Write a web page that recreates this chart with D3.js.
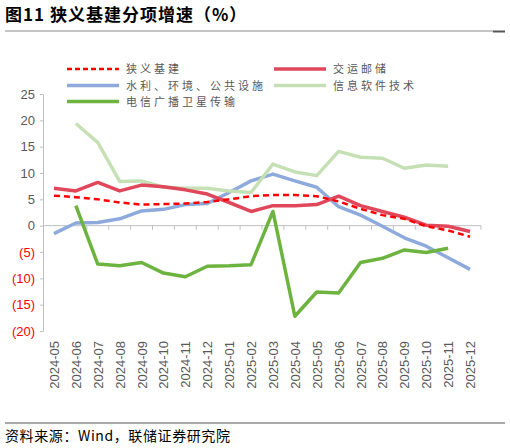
<!DOCTYPE html>
<html>
<head>
<meta charset="utf-8">
<title>狭义基建分项增速</title>
<style>
  body { margin: 0; background: #fff; }
  svg { display: block; font-family: "Noto Sans CJK SC", "Liberation Sans", sans-serif; }
  .line { fill: none; stroke-linejoin: round; }
  .axis text { font-family: "Liberation Sans", Arial, sans-serif; font-size: 13px; fill: #595959; }
  .axis path, .axis line { stroke: #bfbfbf; }
  .legend text { font-size: 11px; fill: #595959; letter-spacing: 3px; }
</style>
</head>
<body>
<script src="https://cdn.jsdelivr.net/npm/d3@7"></script>
<script>
var months = ["2024-05","2024-06","2024-07","2024-08","2024-09","2024-10","2024-11","2024-12",
  "2025-01","2025-02","2025-03","2025-04","2025-05","2025-06","2025-07","2025-08","2025-09",
  "2025-10","2025-11","2025-12"];

var narrowInfra = [5.7, 5.4, 5.0, 4.4, 4.0, 4.1, 4.2, 4.5, 5.0, 5.6, 5.8, 5.8, 5.6, 4.6, 3.2, 2.0, 1.3, -0.1, -0.9, -2.1];
var transport   = [7.1, 6.6, 8.2, 6.6, 7.7, 7.4, 6.8, 6.0, 4.4, 2.7, 3.8, 3.8, 4.0, 5.6, 3.8, 2.7, 1.6, 0.1, -0.1, -1.1];
var waterEnv    = [-1.5, 0.5, 0.6, 1.3, 2.8, 3.1, 4.0, 4.2, 6.3, 8.5, 9.8, 8.5, 7.3, 3.6, 2.0, -0.1, -2.3, -3.9, -6.1, -8.3];
var infoSoft    = [null, 19.4, 15.8, 8.4, 8.5, 7.3, 7.1, 7.1, 6.6, 6.3, 11.7, 10.2, 9.5, 14.1, 13.0, 12.8, 10.9, 11.5, 11.3, null];
var telecom     = [null, 3.8, -7.3, -7.6, -7.0, -9.0, -9.7, -7.7, -7.6, -7.4, 2.7, -17.2, -12.6, -12.8, -7.0, -6.2, -4.6, -5.1, -4.3, null];

var yTicks = [25, 20, 15, 10, 5, 0, -5, -10, -15, -20];

var series = [
  {name: "水利、环境、公共设施", values: waterEnv, color: "#8eaadc", width: 3.5},
  {name: "信息软件技术", values: infoSoft, color: "#c5e0b4", width: 3.5},
  {name: "电信广播卫星传输", values: telecom, color: "#6db33f", width: 3.5},
  {name: "交运邮储", values: transport, color: "#e0475b", width: 3.5},
  {name: "狭义基建", values: narrowInfra, color: "#ff0000", width: 2.5, dash: "6,4"}
];

var W = 510, H = 448;
var margin = {top: 94, left: 43, right: 29, bottom: 117};
var width = W - margin.left - margin.right,
    height = H - margin.top - margin.bottom;

var svg = d3.select("body").append("svg").attr("width", W).attr("height", H);

// title + rules
svg.append("text").attr("x", 5).attr("y", 21)
  .style("font-size", "17px").style("font-weight", "bold").style("fill", "#000")
  .style("letter-spacing", "1px")
  .text("图11 狭义基建分项增速（%）");
svg.append("line").attr("x1", 5).attr("x2", 493).attr("y1", 31).attr("y2", 31)
  .attr("stroke", "#8c8c8c").attr("stroke-width", 1);
svg.append("line").attr("x1", 493).attr("x2", 505).attr("y1", 31.5).attr("y2", 31.5)
  .attr("stroke", "#555").attr("stroke-width", 2);
svg.append("line").attr("x1", 5).attr("x2", 505).attr("y1", 423).attr("y2", 423)
  .attr("stroke", "#555").attr("stroke-width", 1);
svg.append("text").attr("x", 5).attr("y", 441)
  .style("font-size", "14px").style("fill", "#000").style("letter-spacing", "0.6px")
  .text("资料来源：Wind，联储证券研究院");

var g = svg.append("g").attr("transform", "translate(" + margin.left + "," + margin.top + ")");

var x = d3.scaleBand().domain(months).range([0, width]);
var y = d3.scaleLinear().domain([-20, 25]).range([height, 0]);

// y axis
var yAxis = g.append("g").attr("class", "axis")
  .call(d3.axisLeft(y).tickValues(yTicks).tickSize(3).tickSizeOuter(0)
    .tickFormat(function(d) { return d < 0 ? "(" + (-d) + ")" : d; }));
yAxis.selectAll("text").attr("x", -8)
  .style("fill", function(d) { return d < 0 ? "#ff0000" : "#595959"; });

// zero line with ticks between categories
var xAxis = g.append("g").attr("class", "axis")
  .attr("transform", "translate(0," + y(0) + ")");
xAxis.append("line").attr("x1", 0).attr("x2", width).attr("stroke", "#bfbfbf");
xAxis.selectAll(".tk").data(months).enter().append("line")
  .attr("x1", function(d) { return x(d) + x.bandwidth(); })
  .attr("x2", function(d) { return x(d) + x.bandwidth(); })
  .attr("y1", 0).attr("y2", 4).attr("stroke", "#bfbfbf");

// x labels at the bottom, rotated
g.append("g").selectAll("text").data(months).enter().append("text")
  .attr("transform", function(d) {
    return "translate(" + (x(d) + x.bandwidth() / 2 + 5) + "," + (height + 10) + ") rotate(-90)";
  })
  .attr("text-anchor", "end")
  .style("font-family", "Liberation Sans, Arial, sans-serif")
  .style("font-size", "13px").style("fill", "#595959")
  .text(function(d) { return d; });

var line = d3.line()
  .defined(function(d) { return d != null; })
  .x(function(d, i) { return x(months[i]) + x.bandwidth() / 2; })
  .y(function(d) { return y(d); });

series.forEach(function(s) {
  g.append("path").datum(s.values).attr("class", "line")
    .attr("d", line)
    .attr("stroke", s.color).attr("stroke-width", s.width)
    .attr("stroke-dasharray", s.dash || null);
});

// legend
var legendItems = [
  {name: "狭义基建", color: "#ff0000", width: 2.5, dash: "5,3", x: 67, y: 69},
  {name: "交运邮储", color: "#e0475b", width: 3.5, x: 274, y: 69},
  {name: "水利、环境、公共设施", color: "#8eaadc", width: 3.5, x: 67, y: 85.5},
  {name: "信息软件技术", color: "#c5e0b4", width: 3.5, x: 274, y: 85.5},
  {name: "电信广播卫星传输", color: "#6db33f", width: 3.5, x: 67, y: 101.5}
];
var lg = svg.append("g").attr("class", "legend");
legendItems.forEach(function(l) {
  lg.append("line").attr("x1", l.x).attr("x2", l.x + 52).attr("y1", l.y).attr("y2", l.y)
    .attr("stroke", l.color).attr("stroke-width", l.width)
    .attr("stroke-dasharray", l.dash || null);
  lg.append("text").attr("x", l.x + 59).attr("y", l.y + 4).text(l.name);
});
</script>
</body>
</html>
